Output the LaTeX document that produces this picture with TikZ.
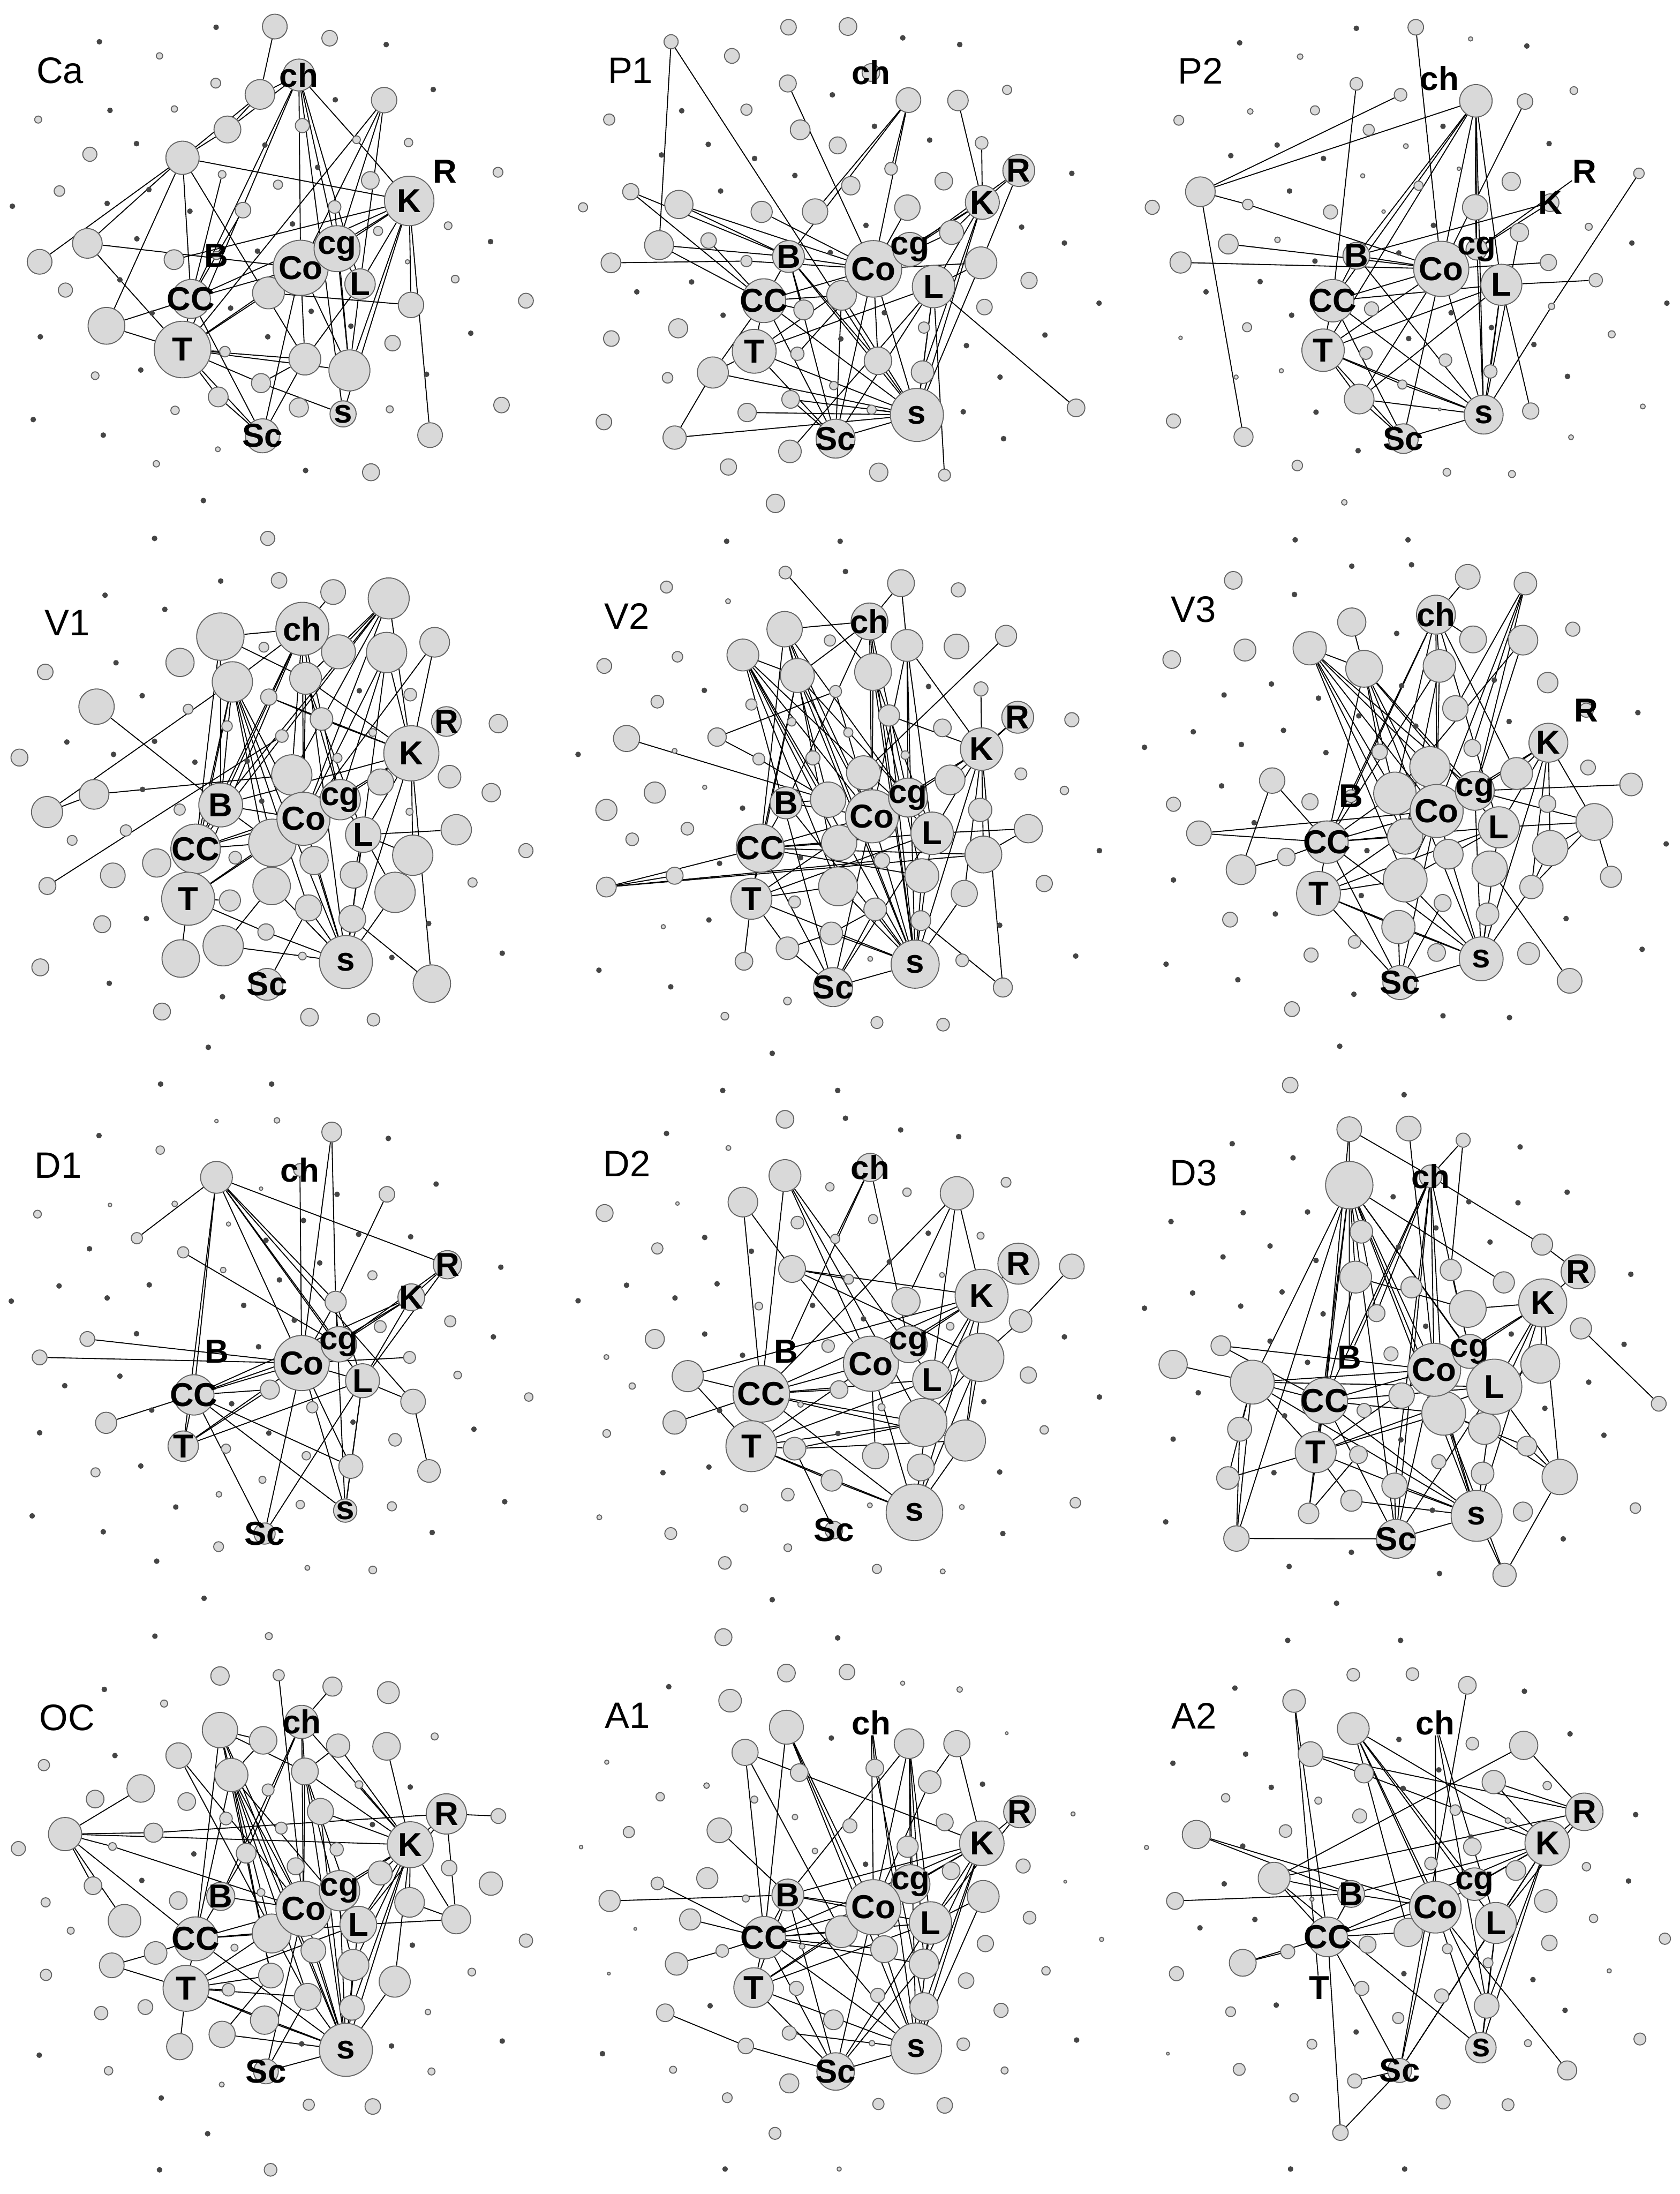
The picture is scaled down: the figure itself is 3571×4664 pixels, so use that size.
\documentclass[tikz,border=0pt]{standalone}
\usepackage{fontspec}
\setmainfont{Liberation Sans}
\definecolor{disc}{HTML}{D9D9D9}
\definecolor{rim}{HTML}{656565}
\definecolor{dotfill}{HTML}{454545}
\pgfdeclarelayer{links}
\pgfsetlayers{links,main}
\tikzset{
  blob/.style={circle, draw=rim, fill=disc, line width=0.4pt, inner sep=0pt, minimum size=#1*0.01012cm},
  speck/.style={circle, fill=dotfill, inner sep=0pt, minimum size=0.08cm},
  tag/.style={font=\bfseries\fontsize{13.5}{14}\selectfont, inner sep=0pt},
  paneltitle/.style={font=\fontsize{15}{16}\selectfont, inner sep=0pt},
  link/.style={line width=0.4pt, black}
}
\begin{document}
\begin{tikzpicture}[x=0.006726cm, y=-0.006726cm]
\useasboundingbox (0,0) rectangle (3571,4664);

% Panel Ca
\begin{scope}[shift={(0,0)}, scale=0.752]
  \node[paneltitle] (Ca-title) at (170,200) {Ca};
  \foreach \x/\y [count=\i] in {611/77, 281/118, 1092/126, 1225/253, 948/282, 311/312, 386/406, 749/410, 898/473, 421/536, 303/575, 537/597, 35/583, 827/633, 1387/683, 387/675, 728/710, 339/791, 652/871, 880/880, 992/922, 114/952, 1331/942, 757/952, 398/1046, 1206/1058, 94/1186, 292/1230, 864/1330, 575/1415, 437/1522, 430/885}
    \node[speck] (d\i) at (\x,\y) {};
  \foreach \x/\y/\r/\n in {777/75/35/n1, 932/108/22/n2, 451/158/9/n3, 610/235/14/n4, 735/267/42/n5, 1086/283/36/n6, 493/308/9/n7, 108/338/10/n8, 643/366/38/n9, 855/355/20/n10, 1008/395/11/n11, 1155/403/12/n12, 516/446/47/n13, 254/436/20/n14, 1408/487/14/n15, 628/493/11/n16, 1047/510/25/n17, 786/522/13/n18, 168/540/15/n19, 687/594/22/n20, 946/585/18/n21, 1267/638/11/n22, 1069/653/13/n23, 247/688/42/n24, 112/740/35/n25, 492/734/28/n26, 1152/740/6/n27, 1287/789/11/n28, 185/820/20/n29, 759/828/45/n30, 1487/850/21/n31, 1162/862/36/n32, 301/921/52/n33, 1110/970/22/n34, 636/994/15/n35, 862/1015/45/n36, 988/1047/58/n37, 738/1083/27/n38, 269/1062/11/n39, 617/1122/28/n40, 845/1152/27/n41, 1418/1145/22/n42, 495/1160/12/n43, 1102/1157/10/n44, 1216/1230/35/n45, 616/1270/7/n46, 442/1311/9/n47, 1049/1335/24/n48, 757/1522/20/n49}
    \node[blob=\r] (\n) at (\x,\y) {};
  \foreach \x/\y/\r/\n in {845/212/45/ch, 1157/568/70/K, 850/757/78/Co, 953/703/65/cg, 612/722/12/B, 540/845/55/CC, 1018/803/43/L, 516/988/80/T, 970/1170/37/s, 742/1232/48/Sc}
    {\node[blob=\r] (\n) at (\x,\y) {}; \node[tag] (\n-t) at (\n) {\n};}
  \node[tag] (R) at (1258,485) {R};
  \begin{pgfonlayer}{links}
    \foreach \p/\q in {n1/n5, ch/n5, ch/n9, ch/CC, ch/T, ch/Co, ch/n11, n11/K, ch/cg, ch/s, ch/L, n5/n9, n9/n13, n5/n13, n13/n24, n13/n25, n13/n33, n13/CC, n13/K, n13/n36, n24/Co, n24/T, n26/K, n20/CC, n6/T, n6/cg, n6/Co, n6/L, K/cg, K/Co, K/CC, K/L, K/s, K/n32, K/n45, K/n37, Co/CC, Co/T, Co/n30, Co/n36, Co/Sc, Co/n37, cg/n37, cg/L, n30/n32, L/n36, L/n37, T/n33, T/CC, T/n35, T/n36, T/n37, T/n38, T/n40, T/Sc, T/n30, n38/s, n36/Sc, n36/n38, n40/Sc, CC/n33, CC/Sc, n21/n37, n16/CC}
      \draw[link] (\p) -- (\q);
  \end{pgfonlayer}
\end{scope}

% Panel P1
\begin{scope}[shift={(1190,0)}, scale=0.752]
  \node[paneltitle] (P1-title) at (200,200) {P1};
  \foreach \x/\y [count=\i] in {970/107, 1131/126, 771/268, 345/313, 890/357, 420/408, 1046/396, 288/438, 551/448, 665/496, 1448/490, 455/540, 866/637, 1306/642, 1427/687, 765/714, 373/797, 218/825, 1525/857, 462/891, 918/884, 1372/947, 1150/977, 795/958, 1245/1066, 1141/1164, 1255/1240, 472/1530, 793/1530}
    \node[speck] (d\i) at (\x,\y) {};
  \foreach \x/\y/\r/\n in {647/77/22/n1, 815/75/25/n2, 315/118/20/n3, 487/158/21/n4, 645/236/24/n5, 986/283/35/n6, 1126/284/29/n7, 1265/254/13/n8, 528/310/16/n9, 140/338/16/n10, 680/367/28/n11, 786/411/24/n12, 1193/404/18/n13, 937/477/18/n14, 1086/512/25/n15, 823/525/26/n16, 201/542/23/n17, 337/578/40/n18, 66/586/13/n19, 571/599/30/n20, 722/598/36/n21, 983/587/36/n22, 1108/657/34/n23, 281/693/41/n24, 421/680/22/n25, 145/743/28/n26, 528/738/16/n27, 1191/743/45/n28, 1327/793/23/n29, 797/835/42/n30, 690/876/28/n31, 1201/868/22/n32, 335/928/27/n33, 1030/926/16/n34, 146/957/22/n35, 672/1000/19/n36, 900/1020/39/n37, 1026/1052/32/n38, 433/1053/44/n39, 305/1068/15/n40, 775/1090/12/n41, 653/1129/25/n42, 530/1166/26/n43, 882/1158/13/n44, 1460/1153/25/n45, 125/1193/22/n46, 325/1237/33/n47, 651/1276/32/n48, 477/1320/23/n49, 902/1335/26/n50, 1088/1343/17/n51, 610/1423/26/n52}
    \node[blob=\r] (\n) at (\x,\y) {};
  \foreach \x/\y/\r/\n in {880/205/25/ch, 1298/482/45/R, 1195/572/48/K, 887/760/80/Co, 990/705/48/cg, 647/725/45/B, 577/850/62/CC, 1057/810/60/L, 550/993/62/T, 1010/1173/75/s, 780/1240/55/Sc}
    {\node[blob=\r] (\n) at (\x,\y) {}; \node[tag] (\n-t) at (\n) {\n};}
  \begin{pgfonlayer}{links}
    \foreach \p/\q in {n3/n24, n3/n37, n5/Co, n6/n21, n6/B, n6/Co, n6/n14, n7/K, n13/K, R/K, R/n28, R/cg, K/cg, K/Co, K/n23, K/L, K/s, K/n38, n17/CC, n17/B, n18/Co, n18/B, n20/Co, n24/B, n24/CC, n26/n27, n27/Co, n25/CC, B/Co, B/CC, B/n37, B/s, B/Sc, B/n31, CC/Co, CC/n30, CC/T, CC/n39, CC/s, CC/Sc, CC/n31, T/L, T/Co, T/n39, T/Sc, T/s, n39/n47, n39/s, n47/s, n43/s, n42/Sc, n42/s, n48/L, n45/L, n51/L, Co/s, Co/Sc, Co/n37, Co/n30, L/s, L/Sc, L/n38, n28/s, n28/L, n28/Co, n30/s, n30/Sc, n37/s, n38/s, Sc/s, n22/Co, n23/Co, n36/Co, n44/s}
      \draw[link] (\p) -- (\q);
  \end{pgfonlayer}
\end{scope}

% Panel P2
\begin{scope}[shift={(2380,0)}, scale=0.752]
  \node[paneltitle] (P2-title) at (230,200) {P2};
  \foreach \x/\y [count=\i] in {670/80, 340/121, 1152/130, 915/357, 446/410, 1215/406, 315/440, 577/448, 481/540, 888/637, 1449/687, 790/715, 553/738, 398/796, 245/825, 1548/857, 487/891, 938/884, 1052/926, 1172/974, 818/957, 1267/1064, 556/1165, 675/1274, 497/1526, 816/1526}
    \node[speck] (d\i) at (\x,\y) {};
  \foreach \x/\y/\r/\n in {838/77/22/n1, 993/110/6/n2, 511/160/8/n3, 670/237/18/n4, 795/268/18/n5, 1008/285/46/n6, 1147/287/22/n7, 1285/256/11/n8, 168/340/14/n9, 370/315/8/n10, 553/312/13/n11, 705/367/16/n12, 810/413/7/n13, 688/497/6/n14, 960/477/5/n15, 1108/513/26/n16, 229/542/42/n17, 93/586/20/n18, 363/578/15/n19, 846/525/13/n20, 597/599/20/n21, 747/598/5/n22, 1006/586/36/n23, 1327/641/10/n24, 1131/657/26/n25, 308/690/28/n26, 447/678/8/n27, 173/742/30/n28, 1213/742/23/n29, 1347/792/19/n30, 713/873/20/n31, 1222/866/9/n32, 361/925/13/n33, 173/955/5/n34, 1392/945/10/n35, 697/998/18/n36, 922/1018/18/n37, 1049/1050/19/n38, 458/1048/6/n39, 330/1066/6/n40, 800/1087/13/n41, 678/1128/42/n42, 906/1157/4/n43, 1163/1162/23/n44, 1469/490/15/n45, 153/1190/20/n46, 351/1235/27/n47, 1480/1149/7/n48, 1277/1236/7/n49, 503/1316/15/n50, 926/1335/11/n51, 1110/1340/10/n52, 636/1420/8/n53}
    \node[blob=\r] (\n) at (\x,\y) {};
  \foreach \x/\y/\r/\n in {1218/573/25/K, 910/760/78/Co, 1010/705/30/cg, 670/723/38/B, 603/850/60/CC, 1080/805/58/L, 576/990/60/T, 1030/1172/55/s, 803/1240/42/Sc}
    {\node[blob=\r] (\n) at (\x,\y) {}; \node[tag] (\n-t) at (\n) {\n};}
  \node[tag] (ch) at (905,222) {ch};
  \node[tag] (R) at (1315,485) {R};
  \begin{pgfonlayer}{links}
    \foreach \p/\q in {n17/n5, n17/n6, n17/n47, n17/n19, n19/Co, n4/CC, n1/Co, n6/B, n6/CC, n6/T, n6/Co, n6/cg, n6/s, n6/n23, n6/L, n7/Co, n26/Co, n28/Co, B/K, R/cg, K/cg, B/Co, B/CC, B/s, CC/Co, CC/L, CC/T, CC/Sc, CC/s, T/Co, T/L, T/s, T/n42, T/Sc, T/n41, Co/n29, L/n30, L/s, L/n38, L/n42, L/n44, n45/n32, n32/s, n25/s, Co/s, Co/Sc, Co/n42, n42/s, n42/Sc, Sc/s, n23/cg, n23/s, n41/s}
      \draw[link] (\p) -- (\q);
  \end{pgfonlayer}
\end{scope}

% Panel V1
\begin{scope}[shift={(0,1160)}, scale=0.752]
  \node[paneltitle] (V1-title) at (190,218) {V1};
  \foreach \x/\y [count=\i] in {624/100, 297/140, 466/180, 328/331, 402/424, 1016/410, 189/555, 437/553, 321/590, 551/612, 699/609, 403/689, 740/722, 414/1054, 1212/1068, 1420/1152, 1108/1164, 309/1237, 629/1275, 589/1418, 454/1522, 768/1522}
    \node[speck] (d\i) at (\x,\y) {};
  \foreach \x/\y/\r/\n in {789/98/22/n1, 942/131/35/n2, 1099/149/58/n3, 623/257/67/n4, 957/300/48/n5, 1093/302/57/n6, 1229/273/42/n7, 746/287/14/n8, 509/330/40/n9, 128/357/22/n10, 657/385/57/n11, 864/375/45/n12, 760/428/23/n13, 1160/421/18/n14, 273/455/50/n15, 532/462/14/n16, 909/490/32/n17, 1409/503/26/n18, 642/510/15/n19, 1054/528/11/n20, 797/538/18/n21, 55/599/24/n22, 954/600/13/n23, 825/648/57/n24, 1271/653/32/n25, 1076/668/37/n26, 266/703/42/n27, 1389/698/26/n28, 133/753/44/n29, 508/746/16/n30, 1158/752/10/n31, 1290/803/43/n32, 356/805/16/n33, 204/833/14/n34, 770/840/67/n35, 1487/862/20/n36, 1167/875/57/n37, 443/897/40/n38, 665/882/18/n39, 888/890/40/n40, 319/932/35/n41, 1000/930/38/n42, 1336/952/13/n43, 134/962/24/n44, 768/962/53/n45, 1117/980/57/n46, 650/1003/30/n47, 872/1024/37/n48, 996/1055/38/n49, 289/1070/24/n50, 752/1092/23/n51, 631/1131/57/n52, 511/1167/53/n53, 855/1160/11/n54, 114/1192/24/n55, 1221/1238/53/n56, 458/1317/24/n57, 875/1333/25/n58, 1056/1340/18/n59}
    \node[blob=\r] (\n) at (\x,\y) {};
  \foreach \x/\y/\r/\n in {855/235/75/ch, 1262/497/42/R, 1163/587/78/K, 858/772/75/Co, 962/718/57/cg, 624/733/62/B, 553/857/70/CC, 1027/817/50/L, 532/998/75/T, 978/1177/75/s, 755/1240/45/Sc}
    {\node[blob=\r] (\n) at (\x,\y) {}; \node[tag] (\n-t) at (\n) {\n};}
  \begin{pgfonlayer}{links}
    \foreach \p/\q in {n4/ch, n4/n12, n4/CC, n4/B, ch/n11, ch/n2, ch/B, ch/CC, ch/Co, ch/n24, ch/s, ch/T, ch/cg, n3/B, n3/CC, n3/n5, n3/n12, n3/Co, n3/n24, n3/K, n6/Co, n6/cg, n6/K, n6/s, n7/K, n7/Co, n11/CC, n11/B, n11/Co, n11/s, n11/T, n11/n35, n11/n45, n11/n48, n12/Co, n12/L, n12/cg, n12/K, n13/K, n13/n17, n17/K, n15/B, n29/n11, n27/n24, n44/n21, K/cg, K/Co, K/B, K/L, K/s, K/n37, K/n56, n32/L, B/Co, B/CC, B/n35, CC/Co, CC/n35, CC/cg, CC/T, T/n47, T/n53, T/n51, T/n35, T/Co, n52/n45, n52/n54, n54/s, s/n45, s/n48, s/n49, s/L, s/n46, s/n51, s/n40, s/Co, Sc/n48, n56/n49, L/n46, L/n42, L/cg, n37/L, n29/n27}
      \draw[link] (\p) -- (\q);
  \end{pgfonlayer}
\end{scope}

% Panel V2
\begin{scope}[shift={(1190,1160)}, scale=0.752]
  \node[paneltitle] (V2-title) at (190,200) {V2};
  \foreach \x/\y [count=\i] in {808/73, 409/409, 1043/398, 52/590, 517/742, 1526/862, 681/882, 452/898, 422/1058, 1244/1073, 1459/1160, 111/1200, 314/1247, 601/1435, 461/1540, 786/1540}
    \node[speck] (d\i) at (\x,\y) {};
  \foreach \x/\y/\r/\n in {638/76/18/n1, 965/106/38/n2, 302/117/17/n3, 1127/125/20/n4, 476/157/7/n5, 636/236/50/n6, 764/268/16/n7, 982/282/45/n8, 1122/285/35/n9, 1262/255/30/n10, 518/309/45/n11, 333/314/15/n12, 126/340/21/n13, 672/367/48/n14, 886/357/52/n15, 780/412/17/n16, 1191/405/20/n17, 276/441/18/n18, 542/449/16/n19, 931/480/30/n20, 656/498/12/n21, 1448/492/20/n22, 1082/515/25/n23, 816/528/13/n24, 445/541/26/n25, 189/545/37/n26, 325/580/7/n27, 563/603/17/n28, 716/600/20/n29, 977/592/12/n30, 859/642/48/n31, 1104/662/42/n32, 1304/645/17/n33, 269/698/30/n34, 410/683/6/n35, 1427/692/12/n36, 759/718/50/n37, 132/747/30/n38, 361/800/18/n39, 1189/747/33/n40, 1325/800/40/n41, 205/830/18/n42, 790/840/50/n43, 1198/873/52/n44, 911/890/22/n45, 325/933/24/n46, 132/965/28/n47, 1024/933/48/n48, 787/963/55/n49, 1370/955/23/n50, 1144/983/37/n51, 664/1007/17/n52, 892/1028/32/n53, 1021/1060/28/n54, 293/1077/6/n55, 768/1096/32/n56, 644/1138/32/n57, 521/1175/25/n58, 1138/1172/18/n59, 878/1168/7/n60, 1253/1249/27/n61, 644/1287/11/n62, 467/1330/11/n63, 897/1348/17/n64, 1084/1354/18/n65}
    \node[blob=\r] (\n) at (\x,\y) {};
  \foreach \x/\y/\r/\n in {876/214/52/ch, 1295/485/45/R, 1193/575/60/K, 883/765/75/Co, 985/712/55/cg, 640/727/45/B, 567/855/68/CC, 1053/813/60/L, 542/998/58/T, 1005/1183/68/s, 773/1248/55/Sc}
    {\node[blob=\r] (\n) at (\x,\y) {}; \node[tag] (\n-t) at (\n) {\n};}
  \begin{pgfonlayer}{links}
    \foreach \p/\q in {n1/n15, n6/ch, n6/CC, n6/Co, n6/L, n6/s, n6/n14, n6/n37, n11/n14, n11/Co, n11/s, n11/n43, n11/L, n11/Sc, n11/n37, n11/n49, n14/ch, n14/Co, n14/s, n14/n49, n14/CC, n14/T, n14/cg, ch/n2, ch/n15, ch/Co, ch/cg, ch/B, ch/s, n8/n2, n8/cg, n8/L, n8/s, n8/Co, n8/K, n15/Co, n15/L, n15/s, n15/n48, n10/n31, n17/K, n20/s, n20/K, n16/n25, n25/n28, n28/n37, n26/n37, n47/CC, n47/n46, n47/n44, n47/n45, K/R, K/cg, K/Co, K/L, K/s, K/n44, K/n51, K/n61, R/n32, n41/L, n41/n44, B/CC, B/Co, B/n37, B/s, CC/Co, CC/n43, CC/L, CC/T, CC/Sc, CC/n48, CC/n44, T/n58, T/n57, T/s, T/L, T/Co, T/n49, n57/Sc, n57/n56, n56/n53, Sc/s, Sc/Co, Sc/n53, Sc/L, s/L, s/n54, s/n51, s/n48, s/n53, s/n56, s/Co, s/n49, n61/n54, n16/Co}
      \draw[link] (\p) -- (\q);
  \end{pgfonlayer}
\end{scope}

% Panel V3
\begin{scope}[shift={(2380,1160)}, scale=0.752]
  \node[paneltitle] (V3-title) at (210,180) {V3};
  \foreach \x/\y [count=\i] in {657/58, 826/54, 495/138, 784/248, 1060/380, 430/391, 798/396, 296/422, 563/431, 1466/472, 677/481, 838/510, 1102/497, 209/526, 464/522, 71/570, 345/562, 584/585, 289/679, 381/783, 700/862, 1546/843, 153/945, 684/989, 441/1041, 1263/1054, 1478/1141, 132/1183, 335/1227, 663/1268, 915/1329, 1103/1334, 623/1415, 805/1552}
    \node[speck] (d\i) at (\x,\y) {};
  \foreach \x/\y/\r/\n in {322/98/25/n1, 985/88/35/n2, 1148/107/32/n3, 148/322/25/n4, 355/295/31/n5, 657/216/40/n6, 538/290/47/n7, 692/348/52/n8, 1000/265/38/n9, 1141/267/42/n10, 1282/236/20/n11, 905/340/46/n12, 1211/387/29/n13, 950/460/36/n14, 736/583/22/n15, 998/572/24/n16, 878/625/57/n17, 1123/644/45/n18, 1325/627/21/n19, 432/664/36/n20, 1447/675/32/n21, 153/731/20/n22, 539/724/23/n23, 779/700/60/n24, 1210/730/24/n25, 225/813/35/n26, 1343/781/52/n27, 808/822/50/n28, 930/872/42/n29, 1218/855/50/n30, 472/880/25/n31, 344/916/42/n32, 1047/913/50/n33, 1390/936/30/n34, 808/945/62/n35, 1165/965/33/n36, 914/1010/24/n37, 1041/1042/32/n38, 313/1057/21/n39, 789/1078/47/n40, 665/1120/18/n41, 897/1150/25/n42, 542/1157/20/n43, 1157/1153/31/n44, 1273/1230/35/n45, 488/1310/21/n46, 483/1525/22/n47}
    \node[blob=\r] (\n) at (\x,\y) {};
  \foreach \x/\y/\r/\n in {895/195/55/ch, 1320/465/20/R, 1213/557/55/K, 897/750/75/Co, 1005/693/55/cg, 655/708/18/B, 587/838/60/CC, 1073/796/58/L, 563/983/62/T, 1023/1168/62/s, 793/1235/48/Sc}
    {\node[blob=\r] (\n) at (\x,\y) {}; \node[tag] (\n-t) at (\n) {\n};}
  \begin{pgfonlayer}{links}
    \foreach \p/\q in {n2/ch, n3/Co, n3/cg, n3/n14, n3/n16, n6/n8, n7/n8, n7/Co, n7/n28, n7/n17, n7/n24, n7/n35, n7/cg, n8/Co, n8/CC, n8/n28, n8/cg, n8/n15, n8/L, n8/s, ch/n12, ch/CC, ch/B, ch/n24, ch/Co, ch/n9, ch/L, ch/n18, n12/Co, n12/CC, n12/n28, n10/cg, n10/n24, K/cg, K/Co, K/n18, K/L, K/n27, K/n30, K/s, K/n36, n21/cg, n27/L, n27/cg, n27/n30, n27/n34, n27/n36, n20/n32, n20/CC, n26/CC, n26/Co, n32/n31, n31/CC, CC/Co, CC/n24, CC/n28, CC/T, CC/Sc, CC/s, CC/L, T/Co, T/L, T/n35, T/n40, T/Sc, T/s, n35/s, n35/L, n35/Co, n40/s, n40/Sc, Sc/s, Sc/n37, Sc/Co, s/L, s/n38, s/n36, s/cg, s/Co, n45/n33, n36/n30}
      \draw[link] (\p) -- (\q);
  \end{pgfonlayer}
\end{scope}

% Panel D1
\begin{scope}[shift={(0,2320)}, scale=0.752]
  \node[paneltitle] (D1-title) at (165,210) {D1};
  \foreach \x/\y [count=\i] in {280/125, 1098/133, 1233/262, 953/291, 858/365, 1014/404, 1161/411, 253/445, 752/421, 904/485, 32/593, 303/584, 167/550, 422/547, 1416/497, 832/647, 386/685, 1395/694, 731/722, 339/805, 183/832, 655/883, 429/901, 998/935, 112/965, 1340/955, 760/966, 398/1059, 1427/1160, 497/1175, 91/1200, 292/1245, 1222/1247, 443/1328, 577/1433, 438/1540, 689/605, 790/533}
    \node[speck] (d\i) at (\x,\y) {};
  \foreach \x/\y/\r/\n in {612/84/5/n1, 783/82/8/n2, 938/115/28/n3, 453/166/12/n4, 612/243/45/n5, 738/275/5/n6, 1094/291/22/n7, 106/347/11/n8, 311/321/5/n9, 494/318/8/n10, 646/375/6/n11, 387/415/16/n12, 518/455/16/n13, 631/505/8/n14, 1053/520/13/n15, 949/595/30/n16, 1273/650/16/n17, 1075/665/17/n18, 247/700/21/n19, 112/752/21/n20, 1158/752/17/n21, 1294/802/11/n22, 763/843/27/n23, 1495/864/12/n24, 883/893/16/n25, 1168/877/35/n26, 300/937/30/n27, 1117/985/18/n28, 639/1010/13/n29, 866/1030/12/n30, 992/1060/34/n31, 1213/1073/32/n32, 270/1077/13/n33, 742/1098/10/n34, 619/1139/8/n35, 849/1168/12/n36, 1108/1173/13/n37, 618/1287/14/n38, 869/1347/7/n39, 1054/1353/11/n40, 760/1540/10/n41}
    \node[blob=\r] (\n) at (\x,\y) {};
  \foreach \x/\y/\r/\n in {848/222/18/ch, 1265/490/40/R, 1163/582/38/K, 853/768/78/Co, 958/715/50/cg, 548/858/57/CC, 1025/818/48/L, 518/1003/43/T, 976/1185/33/s, 748/1250/30/Sc}
    {\node[blob=\r] (\n) at (\x,\y) {}; \node[tag] (\n-t) at (\n) {\n};}
  \node[tag] (B) at (613,735) {B};
  \begin{pgfonlayer}{links}
    \foreach \p/\q in {n5/n12, n5/CC, n5/T, n5/Co, n5/cg, n5/R, n5/L, n5/n26, n5/n16, ch/Co, n3/n16, n3/Co, n7/n16, n13/cg, n16/cg, n16/Co, n16/L, n16/s, R/K, R/cg, R/L, K/cg, K/Co, K/L, K/CC, n19/Co, n20/Co, n27/CC, CC/Co, CC/T, CC/n23, CC/Sc, CC/s, CC/n31, CC/cg, T/n23, T/L, T/Co, Co/Sc, Co/s, Co/L, Co/n31, Co/n21, L/n26, L/s, L/Sc, L/n31, n26/n32, n31/s}
      \draw[link] (\p) -- (\q);
  \end{pgfonlayer}
\end{scope}

% Panel D2
\begin{scope}[shift={(1190,2320)}, scale=0.752]
  \node[paneltitle] (D2-title) at (190,205) {D2};
  \foreach \x/\y [count=\i] in {808/76, 302/119, 964/109, 1128/128, 410/413, 542/452, 1042/401, 932/482, 189/548, 445/544, 326/584, 52/592, 715/605, 859/643, 410/686, 1427/694, 517/746, 1526/864, 1199/877, 452/902, 787/967, 292/1078, 422/1062, 1244/1076, 1253/1250, 601/1437, 786/1545}
    \node[speck] (d\i) at (\x,\y) {};
  \foreach \x/\y/\r/\n in {637/79/25/n1, 477/160/7/n2, 637/238/45/n3, 518/313/42/n4, 333/317/5/n5, 127/344/24/n6, 764/270/12/n7, 982/285/12/n8, 1262/257/14/n9, 1123/288/47/n10, 672/371/18/n11, 886/361/13/n12, 779/417/13/n13, 1190/408/10/n14, 276/444/16/n15, 657/502/38/n16, 817/531/14/n17, 1448/495/35/n18, 1081/519/7/n19, 563/607/11/n20, 979/594/40/n21, 1303/649/32/n22, 1104/664/11/n23, 269/700/27/n24, 759/720/18/n25, 132/751/7/n26, 362/805/44/n27, 1188/752/68/n28, 1325/802/23/n29, 205/833/9/n30, 790/843/25/n31, 681/885/8/n32, 910/893/10/n33, 1027/936/68/n34, 325/936/33/n35, 133/967/11/n36, 1370/957/12/n37, 1146/987/58/n38, 664/1010/32/n39, 893/1030/37/n40, 1021/1063/38/n41, 769/1100/30/n42, 645/1140/18/n43, 521/1178/11/n44, 877/1170/7/n45, 1137/1175/7/n46, 1458/1163/15/n47, 112/1204/7/n48, 314/1250/17/n49, 645/1290/11/n50, 467/1333/18/n51, 897/1350/13/n52, 1083/1357/7/n53, 463/1543/24/n54}
    \node[blob=\r] (\n) at (\x,\y) {};
  \foreach \x/\y/\r/\n in {878/215/40/ch, 1297/487/58/R, 1193/578/75/K, 880/770/78/Co, 987/715/52/cg, 570/855/80/CC, 1053/815/55/L, 542/1003/72/T, 1003/1190/80/s, 775/1240/25/Sc}
    {\node[blob=\r] (\n) at (\x,\y) {}; \node[tag] (\n-t) at (\n) {\n};}
  \node[tag] (B) at (640,735) {B};
  \begin{pgfonlayer}{links}
    \foreach \p/\q in {n4/n16, n4/CC, n3/CC, n3/Co, n3/n34, n3/L, ch/B, ch/n13, ch/cg, n10/K, n10/L, n10/n21, n10/CC, n16/K, n16/Co, n16/n28, n16/n17, n18/n22, n22/n28, R/K, K/cg, K/Co, K/L, K/CC, K/n34, K/s, K/n38, K/n27, n27/CC, n27/T, n35/CC, CC/Co, CC/L, CC/n34, CC/s, CC/T, CC/n31, CC/n38, T/n39, T/n42, T/s, T/L, T/Co, T/n34, n39/Sc, n39/n34, n39/n38, s/n41, s/L, s/Co, s/n28, s/n38, s/n42, n40/Co, n28/L, n28/n34, n38/n28}
      \draw[link] (\p) -- (\q);
  \end{pgfonlayer}
\end{scope}

% Panel D3
\begin{scope}[shift={(2380,2320)}, scale=0.752]
  \node[paneltitle] (D3-title) at (210,230) {D3};
  \foreach \x/\y [count=\i] in {319/148, 491/188, 1133/157, 1266/285, 774/298, 988/312, 1127/315, 350/343, 532/341, 146/368, 895/386, 426/437, 789/440, 1048/426, 293/468, 556/478, 1446/517, 460/567, 207/570, 71/613, 343/607, 576/629, 866/664, 1108/686, 1427/715, 426/706, 532/766, 223/852, 1327/822, 1203/896, 467/917, 152/983, 1370/972, 796/985, 437/1078, 885/1184, 1255/1265, 131/1217, 656/1303, 480/1343, 905/1363, 614/1447, 476/1552, 795/1552}
    \node[speck] (d\i) at (\x,\y) {};
  \foreach \x/\y/\r/\n in {650/107/35/n1, 818/105/35/n2, 972/138/20/n3, 650/265/67/n4, 684/397/32/n5, 1195/433/30/n6, 937/505/30/n7, 668/525/45/n8, 826/554/30/n9, 1087/540/30/n10, 985/615/52/n11, 727/627/24/n12, 1305/670/30/n13, 287/719/28/n14, 768/742/20/n15, 152/772/40/n16, 376/822/62/n17, 1190/770/55/n18, 1525/883/21/n19, 798/860/36/n20, 692/902/20/n21, 917/910/62/n22, 1032/953/45/n23, 340/955/34/n24, 1152/1003/28/n25, 676/1027/25/n26, 903/1047/20/n27, 1027/1080/32/n28, 1245/1090/50/n29, 307/1093/32/n30, 778/1115/36/n31, 656/1157/30/n32, 535/1193/29/n33, 1141/1188/27/n34, 1459/1178/15/n35, 331/1264/36/n36, 1089/1367/33/n37}
    \node[blob=\r] (\n) at (\x,\y) {};
  \foreach \x/\y/\r/\n in {880/240/32/ch, 1297/510/48/R, 1197/598/68/K, 890/787/75/Co, 990/735/48/cg, 1060/835/78/L, 580/875/65/CC, 555/1020/58/T, 1010/1200/72/s, 782/1265/55/Sc}
    {\node[blob=\r] (\n) at (\x,\y) {}; \node[tag] (\n-t) at (\n) {\n};}
  \node[tag] (B) at (650,752) {B};
  \begin{pgfonlayer}{links}
    \foreach \p/\q in {n1/n4, n1/ch, n1/CC, n2/Co, n3/ch, n3/n7, n4/n17, n4/n36, n4/CC, n4/T, n4/B, n4/Co, n4/cg, n4/n22, n4/L, n4/n5, n4/n8, n4/s, n4/Sc, n4/n10, ch/n6, n6/R, ch/B, ch/CC, ch/n12, ch/Co, ch/cg, ch/n31, ch/Sc, ch/n22, n8/n11, n8/CC, n13/n19, K/R, K/cg, K/Co, K/L, K/n18, K/n11, K/s, K/n29, K/n23, n16/n17, n14/CC, n14/Co, n17/CC, n17/Co, n17/L, n17/T, n17/n24, n17/n30, n17/n36, n17/s, CC/Co, CC/L, CC/n22, CC/T, CC/Sc, CC/s, CC/n33, T/Co, T/L, T/n22, T/s, T/n33, T/n32, T/n30, n36/Sc, n36/n24, n33/n26, n32/s, n22/s, n22/n23, n23/n29, n22/n25, s/n37, s/n28, s/L, s/Co, s/Sc, s/n31, n29/n37, n29/n25, n29/L, n37/n22, Sc/n31, Sc/Co, Sc/L, n5/n12, n7/cg, n18/L}
      \draw[link] (\p) -- (\q);
  \end{pgfonlayer}
\end{scope}

% Panel OC
\begin{scope}[shift={(0,3480)}, scale=0.752]
  \node[paneltitle] (OC-title) at (190,228) {OC};
  \foreach \x/\y [count=\i] in {295/148, 325/335, 1160/424, 1053/530, 548/613, 401/688, 1166/871, 111/1182, 1107/1156, 1420/1142, 456/1303, 587/1404, 451/1506, 853/1150}
    \node[speck] (d\i) at (\x,\y) {};
  \foreach \x/\y/\r/\n in {622/110/26/n1, 788/108/16/n2, 940/140/27/n3, 1098/157/31/n4, 464/188/10/n5, 622/263/50/n6, 744/292/39/n7, 956/307/33/n8, 1093/309/39/n9, 1229/281/10/n10, 505/335/36/n11, 124/362/16/n12, 654/390/47/n13, 862/380/38/n14, 398/428/39/n15, 269/458/25/n16, 528/465/25/n17, 758/432/17/n18, 1015/417/11/n19, 906/493/37/n20, 639/513/18/n21, 795/540/17/n22, 1409/506/21/n23, 184/557/47/n24, 434/553/27/n25, 318/592/11/n26, 52/598/20/n27, 952/600/19/n28, 696/611/28/n29, 836/648/24/n30, 1270/653/22/n31, 1075/667/34/n32, 263/703/25/n33, 1388/697/33/n34, 738/722/11/n35, 504/745/25/n36, 129/750/13/n37, 1158/750/42/n38, 352/802/46/n39, 200/830/10/n40, 1290/798/41/n41, 768/838/55/n42, 1487/858/19/n43, 663/878/10/n44, 886/886/35/n45, 440/893/32/n46, 316/928/35/n47, 999/927/44/n48, 130/955/16/n49, 1334/947/11/n50, 766/957/35/n51, 1116/974/44/n52, 646/997/18/n53, 870/1017/38/n54, 995/1048/35/n55, 411/1046/21/n56, 286/1063/19/n57, 1210/1060/8/n58, 748/1083/40/n59, 628/1123/37/n60, 508/1158/37/n61, 307/1226/12/n62, 1220/1228/10/n63, 627/1265/7/n64, 873/1322/16/n65, 1054/1327/22/n66, 765/1506/18/n67}
    \node[blob=\r] (\n) at (\x,\y) {};
  \foreach \x/\y/\r/\n in {853/240/47/ch, 1262/500/57/R, 1160/587/65/K, 858/768/78/Co, 960/717/57/cg, 624/733/40/B, 553/853/62/CC, 1013/813/52/L, 526/993/65/T, 978/1167/75/s, 752/1228/35/Sc}
    {\node[blob=\r] (\n) at (\x,\y) {}; \node[tag] (\n-t) at (\n) {\n};}
  \begin{pgfonlayer}{links}
    \foreach \p/\q in {n24/n15, n24/n33, n24/n39, n24/n25, n25/R, n24/K, n24/n26, n26/Co, n24/CC, n6/n13, n6/n7, n6/n14, n6/CC, n6/Co, n6/s, n6/n51, n7/n13, ch/n14, ch/n3, ch/B, ch/Co, ch/K, ch/n29, n2/Co, n8/n14, n8/K, n9/K, n11/Co, n11/n54, n13/CC, n13/Co, n13/s, n13/L, n13/n51, n13/n54, n13/n42, n14/K, n14/Co, n14/L, n14/s, n14/n48, n20/K, n20/s, n19/K, n23/R, R/K, R/L, R/n41, K/cg, K/Co, K/L, K/n32, K/n38, K/n41, K/s, K/n48, K/n52, K/n55, n41/n38, n41/L, B/CC, B/Co, B/n29, CC/Co, CC/n42, CC/T, CC/L, CC/s, CC/n46, n47/T, n47/n46, T/n53, T/n51, T/n54, T/s, T/L, T/Co, T/n61, T/n59, n60/s, n60/n51, n59/s, Sc/s, Sc/Co, Sc/n54, s/n55, s/n52, s/n48, s/L, s/cg, s/Co, s/n45, s/n54}
      \draw[link] (\p) -- (\q);
  \end{pgfonlayer}
\end{scope}

% Panel A1
\begin{scope}[shift={(1190,3480)}, xscale=1.516, yscale=0.743]
  \node[paneltitle] (A1-title) at (95,225) {A1};
  \foreach \x/\y [count=\i] in {153/142, 381/289, 429/650, 211/1055, 60/1192, 725/1153, 232/1522, 593/421}
    \node[speck] (d\i) at (\x,\y) {};
  \foreach \x/\y/\r/\n in {318/103/25/n1, 403/100/22/n2, 239/182/32/n3, 318/258/48/n4, 490/305/42/n5, 557/305/37/n6, 260/330/37/n7, 442/375/25/n8, 336/388/25/n9, 519/415/32/n10, 141/457/12/n11, 273/465/10/n12, 206/425/8/n13, 97/558/16/n14, 224/553/35/n15, 540/530/24/n16, 407/540/20/n17, 488/600/30/n18, 330/515/8/n19, 358/612/8/n20, 207/690/30/n21, 137/705/18/n22, 549/669/25/n23, 650/655/20/n24, 70/755/30/n25, 261/748/10/n26, 594/742/45/n27, 183/808/30/n28, 395/843/45/n29, 659/803/18/n30, 597/877/23/n31, 455/893/38/n32, 511/935/42/n33, 228/898/18/n34, 164/935/32/n35, 340/885/8/n36, 682/955/12/n37, 570/983/22/n38, 332/1005/20/n39, 446/1025/20/n40, 511/1058/40/n41, 148/1075/25/n42, 619/1068/20/n43, 384/1095/28/n44, 322/1133/20/n45, 438/1162/8/n46, 261/1170/22/n47, 566/1165/18/n48, 159/1238/10/n49, 322/1277/27/n50, 624/1240/10/n51, 235/1318/14/n52, 447/1336/16/n53, 540/1340/22/n54, 302/1420/17/n55, 392/1522/6/n56, 66/358/6/n57, 627/275/4/n58, 30/601/5/n59, 720/506/6/n60, 709/700/4/n61, 760/865/6/n62, 69/963/4/n63, 106/835/4/n64, 481/132/6/n65, 561/150/8/n66}
    \node[blob=\r] (\n) at (\x,\y) {};
  \foreach \x/\y/\r/\n in {645/500/45/R, 592/590/63/K, 492/707/55/cg, 440/773/78/Co, 320/738/45/B, 287/860/60/CC, 520/818/60/L, 272/1003/56/T, 500/1177/72/s, 387/1243/53/Sc}
    {\node[blob=\r] (\n) at (\x,\y) {}; \node[tag] (\n-t) at (\n) {\n};}
  \node[tag] (ch) at (437,245) {ch};
  \begin{pgfonlayer}{links}
    \foreach \p/\q in {n4/CC, n4/Co, n4/s, n4/n32, n7/K, n7/CC, n7/n29, ch/n8, ch/Co, ch/s, n5/cg, n5/Co, n5/B, n5/s, n5/L, n5/n33, n6/n10, n6/K, n10/Co, n8/n41, n15/B, n22/CC, n25/B, n28/CC, n35/n34, n34/CC, n42/n47, n47/Sc, K/R, K/cg, K/Co, K/B, K/L, K/s, K/n33, K/n41, K/CC, R/L, B/Co, B/CC, B/T, B/s, B/Sc, B/L, CC/Co, CC/L, CC/T, CC/n29, CC/s, CC/Sc, CC/n33, T/L, T/Co, T/s, T/n29, T/Sc, n45/s, Sc/s, Sc/n33, Sc/L, Sc/Co, L/s, L/n33, n41/s, n32/s, n32/CC, n27/s, n27/L}
      \draw[link] (\p) -- (\q);
  \end{pgfonlayer}
\end{scope}

% Panel A2
\begin{scope}[shift={(1190,3480)}, xscale=1.516, yscale=0.743]
  \node[paneltitle] (A2-title) at (890,225) {A2};
  \foreach \x/\y [count=\i] in {947/146, 1353/155, 860/361, 962/335, 1177/293, 1417/277, 998/430, 1183/433, 958/598, 932/706, 1499/698, 1509/508, 975/808, 898/832, 1184/963, 1005/1053, 1117/1130, 1410/1068, 1365/980, 1025/1522, 1185/1522, 1233/380, 1278/572}
    \node[speck] (d\i) at (\x,\y) {};
  \foreach \x/\y/\r/\n in {1113/108/18/n1, 1196/106/18/n2, 1273/138/25/n3, 1030/183/32/n4, 1113/262/45/n5, 1280/305/18/n6, 1352/310/40/n7, 1053/335/35/n8, 1128/390/27/n9, 1310/415/33/n10, 1385/425/12/n11, 934/460/12/n12, 1064/468/10/n13, 1256/495/15/n14, 1122/512/20/n15, 1330/525/8/n16, 1018/555/18/n17, 893/565/40/n18, 1280/600/25/n19, 1222/648/18/n20, 1440/657/12/n21, 1341/668/28/n22, 1002/690/45/n23, 1383/755/32/n24, 863/755/24/n25, 1055/750/6/n26, 1450/805/12/n27, 1190/845/40/n28, 1133/880/24/n29, 1388/875/22/n30, 1245/892/14/n31, 1021/900/20/n32, 958/932/38/n33, 1302/932/14/n34, 1472/955/6/n35, 1125/1005/20/n36, 865/963/20/n37, 1237/1027/20/n38, 1300/1055/35/n39, 941/1072/14/n40, 1176/1090/16/n41, 1055/1165/14/n42, 1358/1162/10/n43, 1115/1270/20/n44, 953/1237/17/n45, 1030/1318/12/n46, 1413/1240/27/n47, 1239/1330/20/n48, 1330/1338/17/n49, 1095/1418/22/n50, 1515/1150/17/n51, 1550/863/16/n52, 823/602/6/n53, 853/1192/4/n54}
    \node[blob=\r] (\n) at (\x,\y) {};
  \foreach \x/\y/\r/\n in {1437/500/53/R, 1385/590/63/K, 1283/707/46/cg, 1228/773/73/Co, 1110/735/38/B, 1077/858/56/CC, 1313/818/58/L, 1292/1175/43/s, 1178/1240/34/Sc}
    {\node[blob=\r] (\n) at (\x,\y) {}; \node[tag] (\n-t) at (\n) {\n};}
  \node[tag] (ch) at (1228,245) {ch};
  \node[tag] (T) at (1065,1003) {T};
  \begin{pgfonlayer}{links}
    \foreach \p/\q in {n4/CC, n4/T, n5/Co, n5/L, n5/n39, n5/n28, n5/K, n5/cg, n8/R, n8/K, n3/Sc, ch/Co, ch/L, ch/n39, n7/n23, n7/R, n10/K, n10/R, n18/B, n18/Co, n23/R, n23/B, n23/CC, n23/s, n25/B, n33/CC, n33/n32, K/R, K/cg, K/Co, K/L, K/B, K/CC, K/s, K/n39, CC/Co, CC/n28, CC/Sc, CC/n50, CC/B, B/Co, Sc/n50, Sc/L, Sc/Co, Sc/K, Sc/n44, L/s, L/n39, Co/n47, Co/s, n39/s, R/L}
      \draw[link] (\p) -- (\q);
  \end{pgfonlayer}
\end{scope}

\end{tikzpicture}
\end{document}
